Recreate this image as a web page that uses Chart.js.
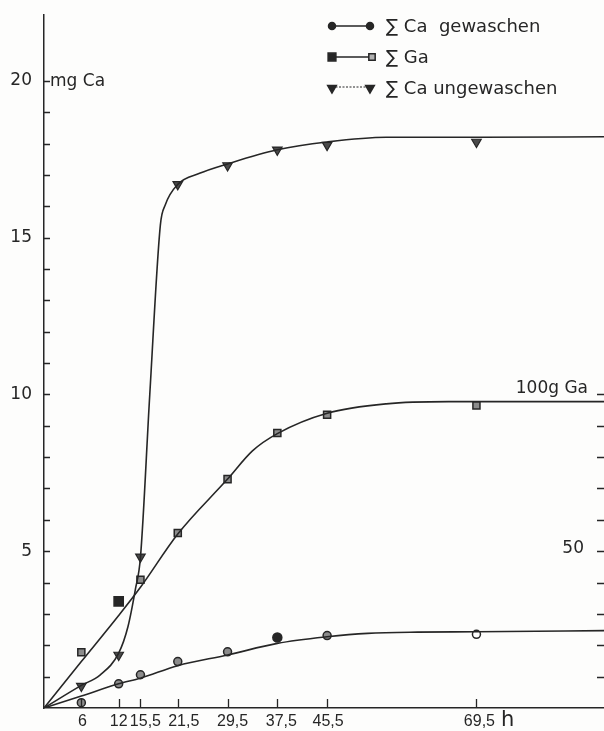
<!DOCTYPE html>
<html lang="de">
  <head>
    <meta charset="UTF-8" />
    <title>Ca und Ga</title>
    <script src="https://cdn.jsdelivr.net/npm/chart.js"></script>
    <style>
      html,
      body {
        margin: 0;
        padding: 0;
        overflow: hidden;
        background: #fdfdfc;
      }
      #wrap {
        width: 604px;
        height: 731px;
        position: relative;
      }
    </style>
  </head>
  <body>
    <div id="wrap"><canvas id="chart"></canvas></div>
    <script>
      // Zeitpunkte (h) und Beschriftung
      const hours = [6, 12, 15.5, 21.5, 29.5, 37.5, 45.5, 69.5]
      const hourLabels = ['6', '12', '15,5', '21,5', '29,5', '37,5', '45,5', '69,5']

      // Messpunkte in mg Ca
      const caWashed = [0.17, 0.77, 1.06, 1.48, 1.79, 2.25, 2.31, 2.35]
      const gaSum = [1.78, 3.4, 4.09, 5.58, 7.3, 8.77, 9.35, 9.65]
      const caUnwashed = [0.7, 1.69, 4.82, 16.7, 17.3, 17.8, 17.95, 18.05]

      // von Hand gezogene Ausgleichskurven
      const curveWashedX = [0, 6, 12, 15.5, 21.5, 29.5, 37.5, 45.5, 52, 60, 69.5, 91]
      const curveWashedY = [0, 0.38, 0.77, 0.95, 1.35, 1.69, 2.06, 2.27, 2.38, 2.42, 2.43, 2.47]
      const curveGaX = [0, 6, 12, 15.5, 21.5, 29.5, 33.5, 37.5, 45.5, 55, 65, 91]
      const curveGaY = [0, 1.48, 2.95, 3.85, 5.55, 7.3, 8.2, 8.75, 9.4, 9.7, 9.77, 9.77]
      const curveUnwashedX = [0, 6, 9, 12, 13.5, 14.7, 15.5, 17, 18.7, 19.5, 21.5, 25, 29.5, 37.5, 45.5, 55, 70, 91]
      const curveUnwashedY = [0, 0.72, 1.05, 1.75, 2.6, 3.8, 4.8, 10, 15.4, 16.05, 16.7, 17.05, 17.35, 17.8, 18.05, 18.2, 18.2, 18.22]

      // Achsen
      const leftLabels = [5, 10, 15, 20]
      const rightTicks = [10, 20, 30, 40, 50, 60, 70, 80, 90, 100]
      const rightLabelValues = [50, 100]
      const rightLabels = ['50', '100g Ga']
      const seriesNames = ['\u2211 Ca  gewaschen', '\u2211 Ga', '\u2211 Ca ungewaschen']

      const ink = '#262626'
      const grey = '#8c8c8c'
      const textFont = '"DejaVu Sans", sans-serif'
      const narrowFont = '"Liberation Sans", sans-serif'
      // kleine Verschiebung der x-Beschriftung wie im Original (px)
      const hourNudge = [1, 0, 5, 6, 5, 4, 1, 3]

      const toPoints = (xs, ys) => xs.map((v, i) => ({ x: v, y: ys[i] }))

      const curve = (xs, ys) => ({
        data: toPoints(xs, ys),
        showLine: true,
        cubicInterpolationMode: 'monotone',
        borderColor: ink,
        borderWidth: 1.6,
        pointRadius: 0,
      })

      // eigene Striche nach innen, Texte und Legende
      const paperMarks = {
        id: 'paperMarks',
        afterDatasetsDraw(chart) {
          const { ctx, chartArea: a } = chart
          const { x, y, y2 } = chart.scales
          const draw = Chart.helpers.drawPoint
          ctx.save()
          ctx.strokeStyle = ink
          ctx.lineWidth = 1.3
          ctx.beginPath()
          for (let v = 1; v <= 20; v++) {
            const py = Math.round(y.getPixelForValue(v)) + 0.5
            ctx.moveTo(a.left, py)
            ctx.lineTo(a.left + 6, py)
          }
          hours.forEach((h) => {
            const px = Math.round(x.getPixelForValue(h)) + 0.5
            ctx.moveTo(px, a.bottom)
            ctx.lineTo(px, a.bottom - 9)
          })
          rightTicks.forEach((v) => {
            const py = Math.round(y2.getPixelForValue(v)) + 0.5
            ctx.moveTo(a.right - 7, py)
            ctx.lineTo(a.right, py)
          })
          ctx.stroke()

          // x-Beschriftung
          ctx.fillStyle = ink
          ctx.font = '16px ' + narrowFont
          ctx.textAlign = 'center'
          ctx.textBaseline = 'middle'
          hours.forEach((h, i) => {
            ctx.fillText(hourLabels[i], x.getPixelForValue(h) + hourNudge[i], a.bottom + 14)
          })

          ctx.font = '17px ' + textFont
          ctx.textAlign = 'left'
          ctx.fillText('mg Ca', a.left + 6, y.getPixelForValue(20) + 1)

          ctx.textAlign = 'right'
          ctx.fillText(rightLabels[0], a.right - 20, y2.getPixelForValue(rightLabelValues[0]) - 3)
          ctx.textBaseline = 'alphabetic'
          ctx.fillText(rightLabels[1], a.right - 16, y2.getPixelForValue(rightLabelValues[1]) - 1)

          ctx.font = '21px ' + textFont
          ctx.textAlign = 'center'
          ctx.textBaseline = 'middle'
          ctx.fillText('h', x.getPixelForValue(74.5), a.bottom + 13)

          // Legende
          const rows = [26, 57, 88]
          const x0 = 332
          const x1 = 370
          ctx.lineWidth = 1.5
          ctx.beginPath()
          ctx.moveTo(x0, rows[0])
          ctx.lineTo(x1, rows[0])
          ctx.moveTo(x0, rows[1])
          ctx.lineTo(x1, rows[1])
          ctx.stroke()
          ctx.save()
          ctx.lineWidth = 1
          ctx.setLineDash([2, 1.5])
          ctx.beginPath()
          ctx.moveTo(x0, rows[2] - 1)
          ctx.lineTo(x1, rows[2] - 1)
          ctx.stroke()
          ctx.restore()

          ctx.fillStyle = ink
          draw(ctx, { pointStyle: 'circle', radius: 3.5, borderWidth: 1 }, x0, rows[0])
          draw(ctx, { pointStyle: 'circle', radius: 3.5, borderWidth: 1 }, x1, rows[0])
          draw(ctx, { pointStyle: 'rect', radius: 5.5, borderWidth: 1 }, x0, rows[1])
          draw(ctx, { pointStyle: 'triangle', radius: 5, rotation: 180, borderWidth: 1 }, x0, rows[2])
          draw(ctx, { pointStyle: 'triangle', radius: 5, rotation: 180, borderWidth: 1 }, x1, rows[2])
          ctx.fillStyle = '#b0b0b0'
          draw(ctx, { pointStyle: 'rect', radius: 4.5, borderWidth: 1.2 }, x1 + 2, rows[1])

          ctx.fillStyle = ink
          ctx.font = '18px ' + textFont
          ctx.textAlign = 'left'
          ctx.textBaseline = 'middle'
          seriesNames.forEach((name, i) => ctx.fillText(name, 386, rows[i] + 1))
          ctx.restore()
        },
      }

      const filledWashed = 5
      const openWashed = 7
      const filledGa = 1

      new Chart(document.getElementById('chart'), {
        type: 'scatter',
        data: {
          datasets: [
            curve(curveWashedX, curveWashedY),
            curve(curveGaX, curveGaY),
            curve(curveUnwashedX, curveUnwashedY),
            {
              label: seriesNames[0],
              data: toPoints(hours, caWashed),
              pointStyle: 'circle',
              pointRadius: (c) => (c.dataIndex === filledWashed ? 4.5 : 4),
              pointBackgroundColor: (c) =>
                c.dataIndex === filledWashed ? ink : c.dataIndex === openWashed ? '#fff' : grey,
              pointBorderColor: ink,
              pointBorderWidth: 1.5,
            },
            {
              label: seriesNames[1],
              data: toPoints(hours, gaSum),
              pointStyle: 'rect',
              pointRadius: (c) => (c.dataIndex === filledGa ? 6.5 : 5),
              pointBackgroundColor: (c) => (c.dataIndex === filledGa ? ink : grey),
              pointBorderColor: ink,
              pointBorderWidth: 1.5,
            },
            {
              label: seriesNames[2],
              data: toPoints(hours, caUnwashed),
              pointStyle: 'triangle',
              rotation: 180,
              pointRadius: 5.5,
              pointBackgroundColor: '#4a4a4a',
              pointBorderColor: ink,
              pointBorderWidth: 1.2,
            },
          ],
        },
        options: {
          responsive: true,
          maintainAspectRatio: false,
          animation: false,
          layout: { autoPadding: false, padding: { top: 15, right: 0, bottom: 0, left: 0 } },
          plugins: {
            legend: { display: false },
            tooltip: { enabled: false },
          },
          scales: {
            x: {
              type: 'linear',
              min: 0,
              max: 90,
              afterFit: (s) => {
                s.height = 23
              },
              grid: { drawOnChartArea: false, drawTicks: false },
              border: { color: ink, width: 1.5 },
              ticks: { display: false },
            },
            y: {
              min: 0,
              max: 22.1,
              afterBuildTicks: (s) => {
                s.ticks = s.ticks.filter((t) => Number.isInteger(t.value))
              },
              afterFit: (s) => {
                s.width = 44
                s.paddingTop = 0
                s.paddingBottom = 0
              },
              grid: { drawOnChartArea: false, drawTicks: false },
              border: { color: ink, width: 1.5 },
              ticks: {
                stepSize: 1,
                autoSkip: false,
                padding: 12,
                color: ink,
                font: { family: textFont, size: 17 },
                callback: (v) => (leftLabels.includes(v) ? String(v) : ''),
              },
            },
            y2: {
              display: false,
              position: 'right',
              min: 0,
              max: 221,
            },
          },
        },
        plugins: [paperMarks],
      })
    </script>
  </body>
</html>
